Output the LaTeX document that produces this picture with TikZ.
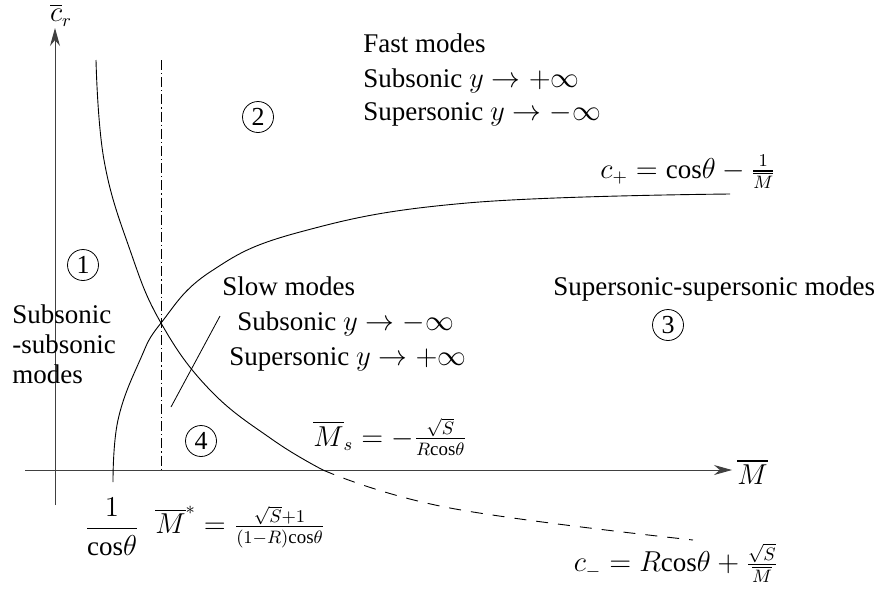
\documentclass[tikz,border=0pt]{standalone}
\usepackage{amsmath}
\usepackage{fontspec}
\setmainfont{Liberation Serif}
\usetikzlibrary{arrows.meta}

\newcommand{\cs}{\mathrm{cos}}

\begin{document}
\begin{tikzpicture}[x=0.5pt, y=-0.5pt, >={Stealth[length=9pt, width=5pt]},
    every node/.style={font=\fontsize{13.5}{16}\selectfont, inner sep=0pt},
    region/.style={circle, draw, minimum size=15.5pt, inner sep=0pt, font=\fontsize{13}{13}\selectfont},
    textline/.style={anchor=base west}]
    \useasboundingbox (0,0) rectangle (882,590);

    % Axes
    \coordinate (O) at (55,470);
    \coordinate (xlo) at (25,470);
    \coordinate (xhi) at (732,470);
    \coordinate (ylo) at (55,505);
    \coordinate (yhi) at (55,28);
    \draw[->, line width=0.5pt, black!75] (xlo) -- (xhi);
    \draw[->, line width=0.5pt, black!75] (ylo) -- (yhi);
    \node (cr) at (61,15) {$\overline{c}_r$};
    \node[anchor=west] (Mbar) at (737,472) {$\overline{M}$};

    % Dash-dot line at M*
    \coordinate (dtop) at (161,60);
    \coordinate (dbot) at (161,470);
    \draw[dash pattern=on 5pt off 1.5pt on 0.6pt off 1.5pt, line width=0.4pt] (dtop) -- (dbot);

    % Curve c_+
    \draw[line width=0.45pt] plot[smooth, tension=0.7] coordinates {(113,482) (118,420) (140,360) (161,323) (210,272) (300,232) (467,203) (730,194)};

    % Curve c_- (solid above the axis, dashed below)
    \coordinate (Ms) at (323,470);
    \draw[line width=0.45pt] plot[smooth, tension=0.7] coordinates {(96,60) (104,160) (130,250) (161,323) (210,390) (273,440) (323,470)};
    \draw[dash pattern=on 6pt off 5pt, line width=0.45pt] plot[smooth, tension=0.7] coordinates {(323,470) (450,508) (693,540)};

    % Pointer to region 4
    \coordinate (ptop) at (220,316);
    \coordinate (pbot) at (171,407);
    \draw[line width=0.4pt] (ptop) -- (pbot);

    % Region markers
    \node[region] (r1) at (83,265) {1};
    \node[region] (r2) at (258,117) {2};
    \node[region] (r3) at (668,325) {3};
    \node[region] (r4) at (201,441) {4};

    % Fast modes
    \node[textline] (fast) at (363,52) {Fast modes};
    \node[textline] (fastsub) at (363,87) {Subsonic $y\rightarrow+\infty$};
    \node[textline] (fastsup) at (363,120) {Supersonic $y\rightarrow-\infty$};

    % Slow modes
    \node[textline] (slow) at (222,295) {Slow modes};
    \node[textline] (slowsub) at (237,330) {Subsonic $y\rightarrow-\infty$};
    \node[textline] (slowsup) at (229,365) {Supersonic $y\rightarrow+\infty$};

    % Subsonic-subsonic
    \node[textline] (ss1) at (12,323) {Subsonic};
    \node[textline] (ss2) at (12,353) {-subsonic};
    \node[textline] (ss3) at (12,383) {modes};

    % Supersonic-supersonic
    \node[textline] (sup) at (553,295) {Supersonic-supersonic modes};

    % Curve labels
    \node (cplus) at (688,172) {$c_+=\cs\theta-\frac{1}{\overline{M}}$};
    \node (cminus) at (676,563) {$c_-=R\cs\theta+\frac{\sqrt{S}}{\overline{M}}$};
    \node[anchor=west] (Mslab) at (313,437) {$\overline{M}_s=-\frac{\sqrt{S}}{R\cs\theta}$};

    % Labels under the axis
    \node (inv) at (112,527) {$\dfrac{1}{\cs\theta}$};
    \node[anchor=west] (Mstar) at (155,527) {$\overline{M}^*=\frac{\sqrt{S}+1}{(1-R)\cs\theta}$};
\end{tikzpicture}
\end{document}
